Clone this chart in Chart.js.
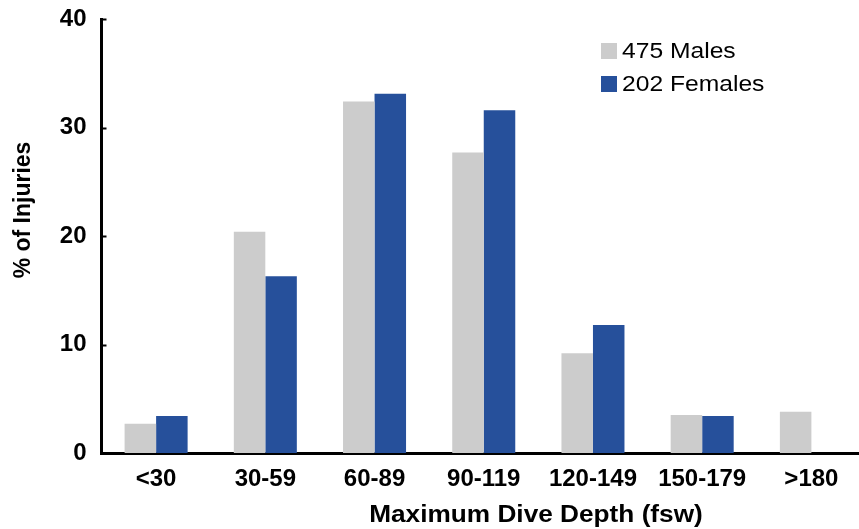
<!DOCTYPE html>
<html>
<head>
<meta charset="utf-8">
<script src="https://cdn.jsdelivr.net/npm/chart.js@4"></script>
<style>
  html, body { margin: 0; padding: 0; background: #fff; overflow: hidden; }
  #wrap { width: 870px; height: 529px; }
</style>
</head>
<body>
<div id="wrap"><canvas id="depthChart" width="870" height="529"></canvas></div>
<script>
const depthBins = ['<30', '30-59', '60-89', '90-119', '120-149', '150-179', '>180'];
const malesPct = [2.7, 20.4, 32.4, 27.7, 9.2, 3.5, 3.8];
const femalesPct = [3.4, 16.3, 33.1, 31.6, 11.8, 3.4, 0];
const yTicks = [0, 10, 20, 30, 40];

const FONT = '"Liberation Sans", Arial, Helvetica, sans-serif';

// text in the reference is a little wider than Liberation Sans
function wideText(ctx, text, x, y, stretch) {
    ctx.save();
    ctx.translate(x, y);
    ctx.scale(stretch, 1);
    ctx.fillText(text, 0, 0);
    ctx.restore();
}

// inward tick marks on the y axis, axis titles and the legend
const extras = {
    id: 'extras',
    afterDraw(chart) {
        const ctx = chart.ctx;
        const area = chart.chartArea;
        const y = chart.scales.y;
        ctx.save();
        ctx.strokeStyle = '#000';
        ctx.lineWidth = 2;
        yTicks.forEach(v => {
            const py = Math.round(y.getPixelForValue(v)) + 0.5;
            ctx.beginPath();
            ctx.moveTo(area.left, py);
            ctx.lineTo(area.left + 5, py);
            ctx.stroke();
        });

        ctx.fillStyle = '#000';
        ctx.font = 'bold 23px ' + FONT;
        ctx.textAlign = 'center';
        ctx.textBaseline = 'alphabetic';
        wideText(ctx, 'Maximum Dive Depth (fsw)', 536, 522, 1.14);

        ctx.save();
        ctx.translate(30, 210);
        ctx.rotate(-Math.PI / 2);
        ctx.fillText('% of Injuries', 0, 0);
        ctx.restore();

        // legend
        ctx.font = '22px ' + FONT;
        ctx.textAlign = 'left';
        chart.data.datasets.forEach((ds, i) => {
            const top = 43 + i * 33;
            ctx.fillStyle = ds.backgroundColor;
            ctx.fillRect(601, top, 16, 16);
            ctx.fillStyle = '#000';
            wideText(ctx, ds.label, 622, top + 15, 1.12);
        });
        ctx.restore();
    }
};

const chart = new Chart(document.getElementById('depthChart').getContext('2d'), {
    type: 'bar',
    data: {
        labels: depthBins,
        datasets: [
            {
                label: '475 Males',
                data: malesPct,
                backgroundColor: '#cccccc',
                categoryPercentage: 0.577,
                barPercentage: 1
            },
            {
                label: '202 Females',
                data: femalesPct,
                backgroundColor: '#26509b',
                categoryPercentage: 0.577,
                barPercentage: 1
            }
        ]
    },
    options: {
        responsive: false,
        animation: false,
        layout: { padding: { left: 0, right: 4, top: 19, bottom: 0 } },
        plugins: {
            legend: { display: false },
            tooltip: { enabled: false }
        },
        scales: {
            x: {
                grid: { display: false, drawTicks: false },
                border: { display: true, color: '#000', width: 3 },
                ticks: {
                    color: '#000',
                    padding: 12,
                    autoSkip: false,
                    maxRotation: 0,
                    font: { family: FONT, size: 24, weight: 'bold' }
                },
                afterFit: s => {
                    s.height = 76;
                    s.paddingLeft = 0;
                    s.paddingRight = 0;
                }
            },
            y: {
                min: 0,
                max: 40,
                grid: { display: false, drawTicks: false },
                border: { display: true, color: '#000', width: 3 },
                ticks: {
                    stepSize: 10,
                    color: '#000',
                    padding: 15,
                    font: { family: FONT, size: 24, weight: 'bold' }
                },
                afterFit: s => {
                    s.width = 101.5;
                    s.paddingTop = 0;
                    s.paddingBottom = 0;
                }
            }
        }
    },
    plugins: [extras]
});
</script>
</body>
</html>
